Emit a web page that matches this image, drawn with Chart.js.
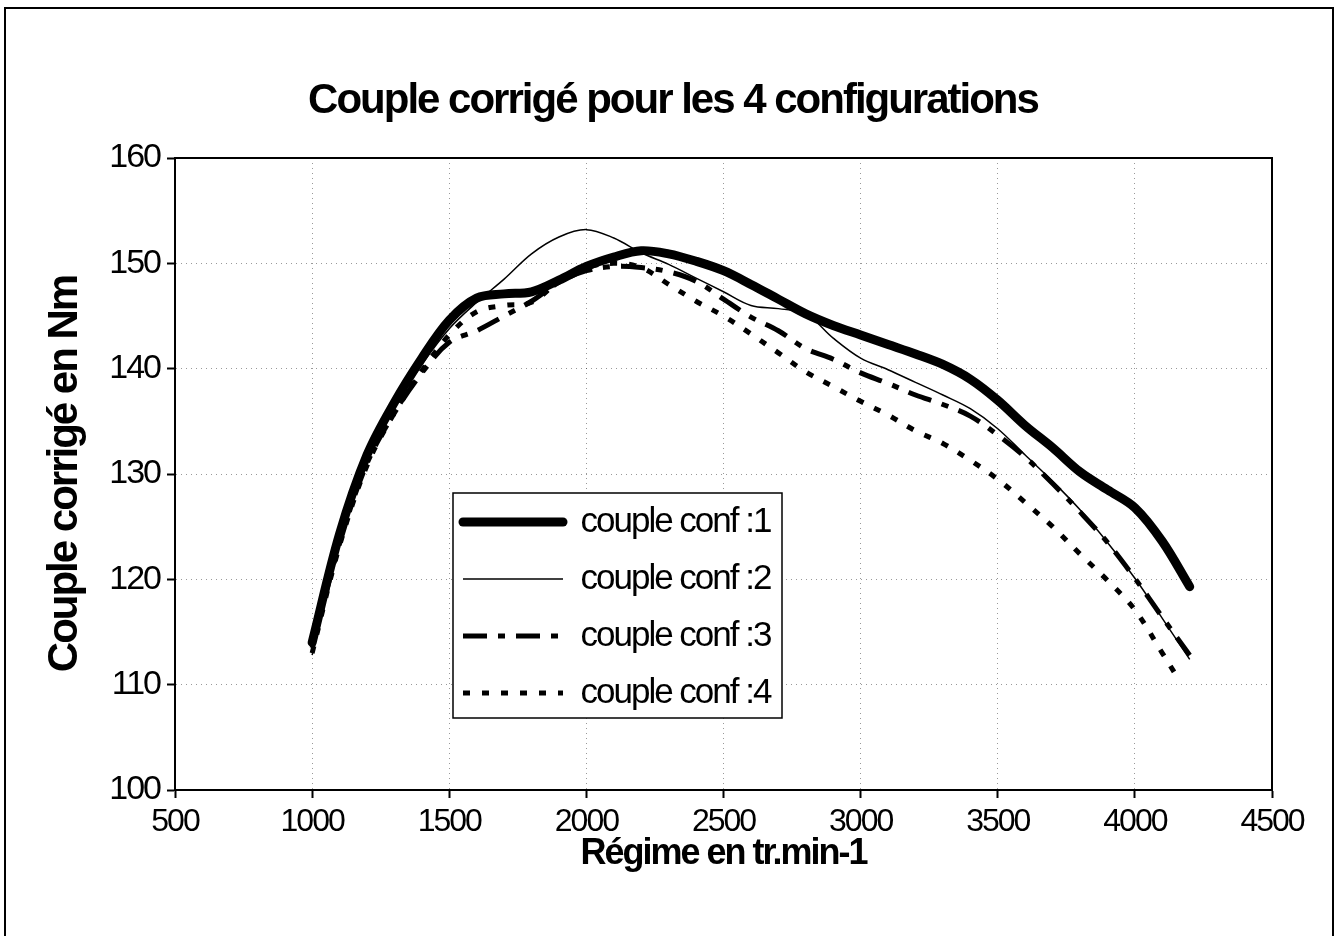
<!DOCTYPE html>
<html lang="fr">
<head>
<meta charset="utf-8">
<title>Couple corrigé pour les 4 configurations</title>
<script src="https://cdn.jsdelivr.net/npm/chart.js@4"></script>
<style>
    html, body { margin: 0; padding: 0; background: #fff; }
    #cadre { width: 1339px; height: 936px; position: relative; }
</style>
</head>
<body>
<div id="cadre"><canvas id="graphique"></canvas></div>
<script>
// Régime moteur (tr/min) et couple corrigé (Nm)
const regime = [1000, 1100, 1200, 1300, 1400, 1500, 1600, 1700, 1800, 1900, 2000,
    2100, 2200, 2300, 2400, 2500, 2600, 2700, 2800, 2900, 3000,
    3100, 3200, 3300, 3400, 3500, 3600, 3700, 3800, 3900, 4000, 4100, 4200];
// la conf 4 s'arrête un peu avant 4200
const regimeConf4 = [1000, 1100, 1200, 1300, 1400, 1500, 1600, 1700, 1800, 1900, 2000,
    2100, 2200, 2300, 2400, 2500, 2600, 2700, 2800, 2900, 3000,
    3100, 3200, 3300, 3400, 3500, 3600, 3700, 3800, 3900, 4000, 4100, 4160];

const coupleConf1 = [114.0, 124.3, 131.8, 136.8, 141.0, 144.6, 146.7, 147.1, 147.3, 148.4, 149.7,
    150.6, 151.2, 150.9, 150.2, 149.3, 148.0, 146.6, 145.2, 144.1, 143.2,
    142.3, 141.4, 140.4, 139.0, 137.0, 134.6, 132.5, 130.2, 128.5, 126.8, 123.6, 119.3];
const coupleConf2 = [112.8, 123.6, 131.4, 136.4, 140.4, 143.8, 146.3, 148.5, 150.9, 152.5, 153.2,
    152.4, 151.0, 149.9, 148.6, 147.3, 146.0, 145.7, 145.2, 142.9, 141.0,
    139.9, 138.7, 137.5, 136.2, 134.3, 131.8, 129.3, 126.6, 123.5, 120.1, 116.3, 112.4];
const coupleConf3 = [113.5, 123.4, 131.0, 135.8, 139.6, 142.5, 143.6, 145.0, 146.4, 148.2, 149.3,
    149.7, 149.6, 149.2, 148.3, 146.6, 144.9, 143.6, 141.9, 140.9, 139.6,
    138.6, 137.5, 136.6, 135.5, 133.7, 131.6, 129.1, 126.4, 123.5, 120.1, 116.4, 112.8];
const coupleConf4 = [113.0, 123.2, 130.8, 135.8, 139.8, 143.2, 145.4, 146.0, 146.3, 148.3, 149.6,
    150.0, 149.6, 148.0, 146.4, 145.0, 143.3, 141.5, 139.7, 138.3, 136.9,
    135.6, 134.1, 132.9, 131.3, 129.5, 127.3, 125.0, 122.4, 119.9, 117.1, 113.0, 110.5];

const etiquettes = ['couple conf :1', 'couple conf :2', 'couple conf :3', 'couple conf :4'];
const titreGraphique = 'Couple corrigé pour les 4 configurations';
const titreAxeX = 'Régime en tr.min-1';
const titreAxeY = 'Couple corrigé en Nm';

const police = '"Liberation Sans", Arial, sans-serif';
const espacement = '-2px';

function points(xs, ys) {
    return xs.map((x, i) => ({ x: x, y: ys[i] }));
}

// Cadre général, cadre de la zone de tracé et encadré de légende
const cadrePlugin = {
    id: 'cadre',
    beforeUpdate(chart) { chart.ctx.letterSpacing = espacement; },
    beforeLayout(chart) { chart.ctx.letterSpacing = espacement; },
    afterLayout(chart) {
        // titre recentré sur la page
        chart.titleBlock.left = 7;
        chart.titleBlock.right = 1339;

        const lg = chart.legend;
        const w = lg.width, h = lg.height;
        lg.left = 441;
        lg.top = 482.5;
        lg.right = lg.left + w;
        lg.bottom = lg.top + h;
    },
    beforeDraw(chart) {
        const ctx = chart.ctx;
        ctx.letterSpacing = espacement;
        ctx.save();
        ctx.fillStyle = '#fff';
        ctx.fillRect(0, 0, chart.width, chart.height);
        ctx.restore();
    },
    afterDraw(chart) {
        const ctx = chart.ctx;
        const a = chart.chartArea;
        ctx.save();
        ctx.strokeStyle = '#000';
        ctx.lineWidth = 2;
        ctx.strokeRect(a.left, a.top, a.right - a.left, a.bottom - a.top);

        // encadré de la légende
        ctx.fillStyle = '#fff';
        ctx.fillRect(453, 493, 329, 225);
        ctx.lineWidth = 1.5;
        ctx.strokeRect(453, 493, 329, 225);

        // bordure extérieure
        ctx.lineWidth = 2;
        ctx.strokeRect(5, 8, 1328, 1000);
        ctx.restore();
        chart.legend.draw();
    }
};

const ctx = document.getElementById('graphique').getContext('2d');

new Chart(ctx, {
    type: 'line',
    data: {
        datasets: [{
            label: etiquettes[0],
            data: points(regime, coupleConf1),
            borderColor: '#000',
            borderWidth: 9,
            borderCapStyle: 'round',
            borderJoinStyle: 'round'
        }, {
            label: etiquettes[1],
            data: points(regime, coupleConf2),
            borderColor: '#000',
            borderWidth: 1.5
        }, {
            label: etiquettes[2],
            data: points(regime, coupleConf3),
            borderColor: '#000',
            borderWidth: 5,
            borderDash: [24, 11, 7, 11]
        }, {
            label: etiquettes[3],
            data: points(regimeConf4, coupleConf4),
            borderColor: '#000',
            borderWidth: 5,
            borderDash: [7, 12]
        }]
    },
    options: {
        responsive: true,
        maintainAspectRatio: false,
        animation: false,
        events: [],
        elements: {
            point: { radius: 0 },
            line: { tension: 0.35, fill: false }
        },
        layout: { padding: { left: 20, right: 67, top: 0, bottom: 0 } },
        plugins: {
            title: {
                display: true,
                text: titreGraphique,
                color: '#000',
                font: { family: police, size: 42, weight: 'bold' },
                padding: { top: 76, bottom: 31.6 }
            },
            legend: {
                display: true,
                position: 'chartArea',
                align: 'start',
                labels: {
                    color: '#000',
                    font: { family: police, size: 35 },
                    usePointStyle: true,
                    pointStyle: 'line',
                    pointStyleWidth: 100,
                    padding: 22,
                    generateLabels(chart) {
                        const items = Chart.defaults.plugins.legend.labels.generateLabels(chart);
                        items.forEach((it, i) => {
                            const ds = chart.data.datasets[i];
                            it.lineDash = ds.borderDash || [];
                            it.lineWidth = ds.borderWidth;
                            it.lineCap = ds.borderCapStyle || 'butt';
                        });
                        return items;
                    }
                }
            },
            tooltip: { enabled: false }
        },
        scales: {
            x: {
                type: 'linear',
                min: 500,
                max: 4500,
                afterFit(scale) { scale.height = 146; },
                ticks: {
                    stepSize: 500,
                    autoSkip: false,
                    maxRotation: 0,
                    color: '#000',
                    padding: 5,
                    font: { family: police, size: 32 },
                    callback: (v) => String(v)
                },
                grid: {
                    color: 'rgba(0,0,0,0.4)',
                    lineWidth: 1,
                    tickColor: '#000',
                    tickLength: 8,
                    tickWidth: 2
                },
                border: { display: true, color: '#000', width: 2, dash: [1, 4] },
                title: {
                    display: true,
                    text: titreAxeX,
                    color: '#000',
                    font: { family: police, size: 36, weight: 'bold' },
                    padding: { top: 0, bottom: 60 }
                }
            },
            y: {
                min: 100,
                max: 160,
                afterFit(scale) { scale.width = 155; },
                ticks: {
                    stepSize: 10,
                    color: '#000',
                    padding: 7,
                    font: { family: police, size: 34 }
                },
                grid: {
                    color: 'rgba(0,0,0,0.4)',
                    lineWidth: 1,
                    tickColor: '#000',
                    tickLength: 8,
                    tickWidth: 2
                },
                border: { display: true, color: '#000', width: 2, dash: [1, 4] },
                title: {
                    display: true,
                    text: titreAxeY,
                    color: '#000',
                    font: { family: police, size: 42, weight: 'bold' },
                    padding: { top: 20, bottom: 0 }
                }
            }
        }
    },
    plugins: [cadrePlugin]
});
</script>
</body>
</html>
